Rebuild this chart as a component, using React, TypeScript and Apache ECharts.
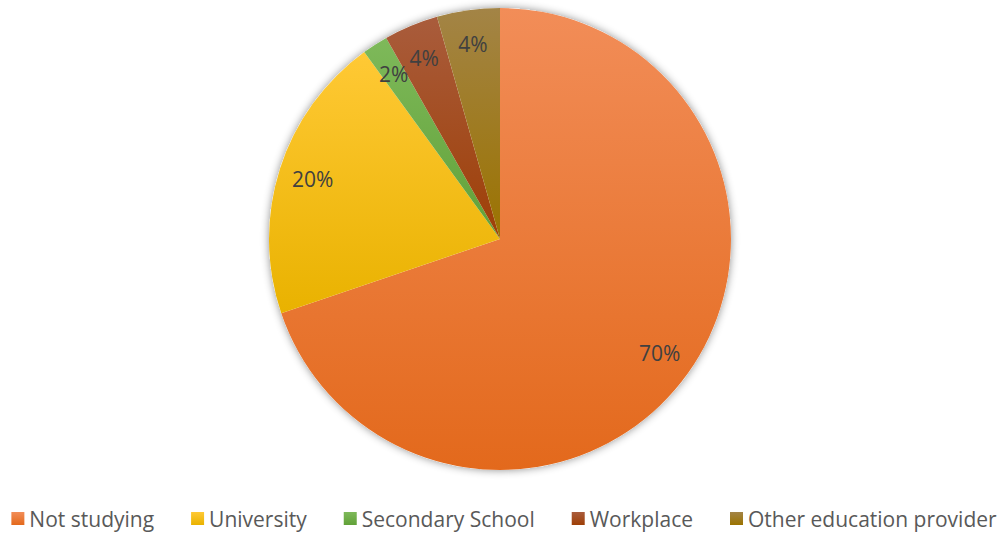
import React, { useEffect, useRef } from "react";
import * as echarts from "echarts";

const categories = ["Not studying", "University", "Secondary School", "Workplace", "Other education provider"];
const values = [69.8, 20.2, 1.8, 3.8, 4.4];
const topColors = ["#F28D58", "#FFC935", "#7EB95A", "#A95C3C", "#A38446"];
const bottomColors = ["#E3691C", "#E9B200", "#61A138", "#9E3F06", "#9B7300"];

const FONT = "'Open Sans', Lato, sans-serif";

function grad(i: number) {
  return new echarts.graphic.LinearGradient(0, 0, 0, 1, [
    { offset: 0, color: topColors[i] },
    { offset: 1, color: bottomColors[i] },
  ]);
}

export default function App() {
  const ref = useRef<HTMLDivElement>(null);
  useEffect(() => {
    document.body.style.margin = "0";
    const chart = echarts.init(ref.current!, undefined, { renderer: "svg" });
    const total = values.reduce((a, b) => a + b, 0);
    const data = categories.map((name, i) => ({
      name,
      value: values[i],
      itemStyle: { color: grad(i) },
    }));
    chart.setOption({
      animation: false,
      backgroundColor: "#ffffff",
      legend: {
        data: categories,
        bottom: 6,
        left: "center",
        itemWidth: 13,
        itemHeight: 13,
        itemGap: 37,
        icon: "rect",
        textStyle: { color: "#595959", fontSize: 21, fontFamily: FONT },
      },
      series: [
        {
          type: "pie",
          name: "shadow",
          center: [500, 239],
          radius: [0, 231],
          silent: true,
          label: { show: false },
          labelLine: { show: false },
          itemStyle: {
            color: "#ffffff",
            shadowBlur: 8,
            shadowColor: "rgba(0,0,0,0.45)",
          },
          data: [{ name: "__bg", value: 1 }],
        },
        {
          type: "pie",
          name: "Study",
          center: [500, 239],
          radius: [0, 231],
          startAngle: 90,
          clockwise: true,
          label: { show: false },
          labelLine: { show: false },
          itemStyle: { borderWidth: 0 },
          data,
        },
        {
          type: "pie",
          name: "labels",
          center: [500, 239],
          radius: [156, 231],
          startAngle: 90,
          clockwise: true,
          silent: true,
          itemStyle: { color: "rgba(0,0,0,0)", borderWidth: 0 },
          label: {
            show: true,
            position: "inside",
            color: "#404040",
            fontSize: 21,
            fontFamily: FONT,
            formatter: (p: any) => Math.round((p.value / total) * 100) + "%",
          },
          labelLine: { show: false },
          data: categories.map((name, i) => ({ name, value: values[i] })),
        },
      ],
    });
    return () => chart.dispose();
  }, []);
  return <div ref={ref} style={{ width: 1008, height: 540 }} />;
}
